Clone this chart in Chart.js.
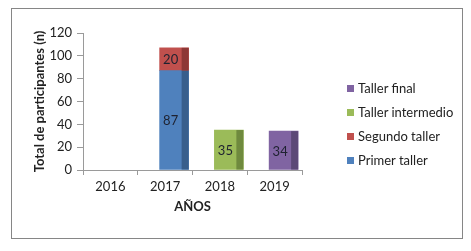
<!DOCTYPE html>
<html>
<head>
<meta charset="utf-8">
<script src="https://cdn.jsdelivr.net/npm/chart.js@4.4.0/dist/chart.umd.min.js"></script>
<style>
  body { margin: 0; background: #fff; }
  #wrap { position: relative; width: 471px; height: 251px; }
  #frame { position: absolute; left: 11px; top: 8px; width: 450px; height: 229px; border: 1px solid #868686; pointer-events: none; }
  #legend { position: absolute; left: 347px; top: 76px; font: 13px Lato, sans-serif; color: #222; }
  .item { height: 24px; display: flex; align-items: center; white-space: nowrap; }
  .sw { width: 7px; height: 7px; margin-right: 4px; }
</style>
</head>
<body>
<div id="wrap">
  <canvas id="chart" width="471" height="251"></canvas>
  <div id="frame"></div>
  <div id="legend"></div>
</div>
<script>
const years = ["2016", "2017", "2018", "2019"];
const primerTaller = [null, 87, null, null];
const segundoTaller = [null, 20, null, null];
const tallerIntermedio = [null, null, 35, null];
const tallerFinal = [null, null, null, 34];

const seriesNames = ["Primer taller", "Segundo taller", "Taller intermedio", "Taller final"];
const frontColors = ["#4F81BD", "#C0504D", "#9BBB59", "#8064A2"];
const sideColors = ["#385E8C", "#8E3836", "#6F8A3E", "#5C4877"];

const SHIFT = 9;   // excel draws the 3d bars a bit right of the category centre
const SIDE = 7;

// fake 3d side + value labels
const barLook = {
  id: "barLook",
  beforeDatasetsDraw(chart) {
    chart.ctx.save();
    chart.ctx.translate(SHIFT, 0);
  },
  afterDatasetsDraw(chart) {
    const ctx = chart.ctx;
    chart.data.datasets.forEach((ds, i) => {
      const meta = chart.getDatasetMeta(i);
      meta.data.forEach((bar, j) => {
        if (ds.data[j] == null) return;
        const { x, y, base, width } = bar.getProps(["x", "y", "base", "width"], true);
        ctx.fillStyle = sideColors[i];
        ctx.fillRect(x + width / 2 - SIDE, y, SIDE, base - y);
        ctx.fillStyle = "#1e2230";
        ctx.font = "13px Lato";
        ctx.textAlign = "center";
        ctx.textBaseline = "middle";
        ctx.fillText(ds.data[j], x - SIDE / 2, (y + base) / 2 + 1);
      });
    });
    ctx.restore();
  }
};

const ctx = document.getElementById("chart").getContext("2d");
const chart = new Chart(ctx, {
  type: "bar",
  data: {
    labels: years,
    datasets: [primerTaller, segundoTaller, tallerIntermedio, tallerFinal].map((d, i) => ({
      label: seriesNames[i],
      data: d,
      backgroundColor: frontColors[i],
      barThickness: 29,
      borderWidth: 0
    }))
  },
  options: {
    responsive: false,
    animation: false,
    layout: { padding: { left: 12, top: 33, right: 169, bottom: 30 } },
    plugins: {
      legend: { display: false },
      tooltip: { enabled: false }
    },
    scales: {
      x: {
        stacked: true,
        afterFit: (s) => { s.height = 51; },
        grid: { offset: true, drawOnChartArea: false, tickLength: 5, color: "#9a9a9a" },
        border: { color: "#9a9a9a" },
        ticks: { font: { family: "Lato", size: 13 }, color: "#222", padding: 4 },
        title: { display: true, text: "AÑOS", color: "#222", font: { family: "Lato", size: 13, weight: "bold" }, padding: { top: 0, bottom: 6 } }
      },
      y: {
        stacked: true,
        min: 0,
        max: 120,
        afterFit: (s) => { s.width = 71; },
        grid: { drawOnChartArea: false, tickLength: 6, color: "#9a9a9a" },
        border: { color: "#9a9a9a" },
        ticks: { stepSize: 20, font: { family: "Lato", size: 13 }, color: "#222", padding: 5 },
        title: { display: true, text: "Total de participantes (n)", color: "#222", font: { family: "Lato", size: 13, weight: "bold" }, padding: { top: 20, bottom: 0 } }
      }
    }
  },
  plugins: [barLook]
});

// legend, top to bottom in reverse order like the excel one
const legend = document.getElementById("legend");
chart.data.datasets.slice().reverse().forEach((ds) => {
  const row = document.createElement("div");
  row.className = "item";
  row.innerHTML = '<span class="sw" style="background:' + ds.backgroundColor + '"></span>' + ds.label;
  legend.appendChild(row);
});
</script>
</body>
</html>
